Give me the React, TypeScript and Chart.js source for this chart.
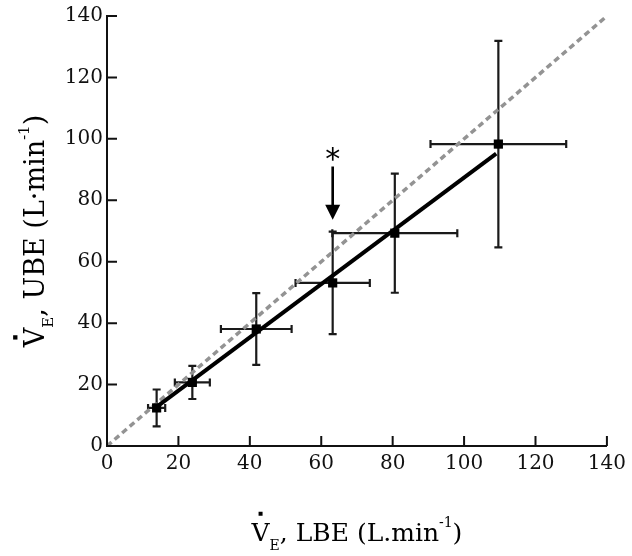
import { useEffect, useRef } from 'react';
import { Chart, registerables } from 'chart.js';

Chart.register(...registerables);

// Mean values (L·min⁻¹): lower-body exercise (x) vs upper-body exercise (y)
const lbeMeans = [13.9, 23.9, 41.8, 63.2, 80.6, 109.6];
const ubeMeans = [12.4, 20.7, 38.1, 53.1, 69.3, 98.3];
const lbeSD = [2.4, 4.9, 9.9, 10.4, 17.5, 19.0];
const ubeSD = [6.0, 5.4, 11.7, 16.7, 19.4, 33.6];

// Regression line and line of identity
const fitX = [14, 109];
const fitY = [12.8, 95.2];
const identityX = [0, 140];
const identityY = [0, 140];

// Ticks
const tickValues = [0, 20, 40, 60, 80, 100, 120, 140];

// Significance marker (arrow + asterisk)
const markerX = 63.2;
const arrowTopY = 91;
const arrowTipY = 73.7;
const asteriskY = 95.6;

type Part = { t: string; kind?: 'sub' | 'sup'; dot?: boolean };
const xTitleParts: Part[] = [
  { t: 'V', dot: true },
  { t: 'E', kind: 'sub' },
  { t: ', LBE (L.min' },
  { t: '-1', kind: 'sup' },
  { t: ')' },
];
const yTitleParts: Part[] = [
  { t: 'V', dot: true },
  { t: 'E', kind: 'sub' },
  { t: ', UBE (L\u00B7min' },
  { t: '-1', kind: 'sup' },
  { t: ')' },
];

const SERIF = '"DejaVu Serif", serif';

function drawRich(ctx: CanvasRenderingContext2D, parts: Part[], size: number, cx: number, baseline: number) {
  const fontMain = `${size}px ${SERIF}`;
  const fontSmall = `${Math.round(size * 0.56)}px ${SERIF}`;
  ctx.textAlign = 'left';
  ctx.textBaseline = 'alphabetic';
  const widths: number[] = [];
  let total = 0;
  parts.forEach((p) => {
    ctx.font = p.kind ? fontSmall : fontMain;
    const w = ctx.measureText(p.t).width;
    widths.push(w);
    total += w;
  });
  let x = cx - total / 2;
  parts.forEach((p, i) => {
    ctx.font = p.kind ? fontSmall : fontMain;
    const dy = p.kind === 'sub' ? size * 0.34 : p.kind === 'sup' ? -size * 0.56 : 0;
    ctx.fillText(p.t, x, baseline + dy);
    if (p.dot) {
      const d = Math.max(3.5, size * 0.16);
      ctx.fillRect(x + widths[i] / 2 - d / 2, baseline - size * 0.73 - 9 - d / 2, d, d);
    }
    x += widths[i];
  });
}

const overlayPlugin = {
  id: 'overlay',
  beforeDatasetsDraw(chart: any) {
    const { ctx } = chart;
    const xs = chart.scales.x;
    const ys = chart.scales.y;
    const cap = 4;
    ctx.save();
    ctx.strokeStyle = '#1a1a1a';
    ctx.lineWidth = 2.2;
    lbeMeans.forEach((mx, i) => {
      const my = ubeMeans[i];
      const px = xs.getPixelForValue(mx);
      const py = ys.getPixelForValue(my);
      const xl = xs.getPixelForValue(mx - lbeSD[i]);
      const xr = xs.getPixelForValue(mx + lbeSD[i]);
      const yt = ys.getPixelForValue(my + ubeSD[i]);
      const yb = ys.getPixelForValue(my - ubeSD[i]);
      ctx.beginPath();
      ctx.moveTo(xl, py); ctx.lineTo(xr, py);
      ctx.moveTo(xl, py - cap); ctx.lineTo(xl, py + cap);
      ctx.moveTo(xr, py - cap); ctx.lineTo(xr, py + cap);
      ctx.moveTo(px, yt); ctx.lineTo(px, yb);
      ctx.moveTo(px - cap, yt); ctx.lineTo(px + cap, yt);
      ctx.moveTo(px - cap, yb); ctx.lineTo(px + cap, yb);
      ctx.stroke();
    });
    ctx.restore();
  },
  afterDraw(chart: any) {
    const { ctx, chartArea } = chart;
    const xs = chart.scales.x;
    const ys = chart.scales.y;
    ctx.save();
    // inward tick marks
    ctx.strokeStyle = '#111';
    ctx.lineWidth = 2;
    ctx.beginPath();
    tickValues.forEach((v) => {
      const px = xs.getPixelForValue(v);
      ctx.moveTo(px, chartArea.bottom);
      ctx.lineTo(px, chartArea.bottom - 10);
      const py = ys.getPixelForValue(v);
      ctx.moveTo(chartArea.left, py);
      ctx.lineTo(chartArea.left + 10, py);
    });
    ctx.stroke();

    // arrow
    const ax = xs.getPixelForValue(markerX);
    const aTop = ys.getPixelForValue(arrowTopY);
    const aTip = ys.getPixelForValue(arrowTipY);
    const headH = 15;
    const headW = 7.5;
    ctx.fillStyle = '#000';
    ctx.strokeStyle = '#000';
    ctx.lineWidth = 2.6;
    ctx.beginPath();
    ctx.moveTo(ax, aTop);
    ctx.lineTo(ax, aTip - headH + 1);
    ctx.stroke();
    ctx.beginPath();
    ctx.moveTo(ax - headW, aTip - headH);
    ctx.lineTo(ax + headW, aTip - headH);
    ctx.lineTo(ax, aTip);
    ctx.closePath();
    ctx.fill();

    // asterisk
    const sy = ys.getPixelForValue(asteriskY);
    ctx.font = '30px "DejaVu Sans", sans-serif';
    ctx.textAlign = 'center';
    ctx.textBaseline = 'alphabetic';
    ctx.fillText('*', ax, sy + 0.56 * 30);

    // axis titles
    ctx.fillStyle = '#000';
    const cx = (chartArea.left + chartArea.right) / 2;
    drawRich(ctx, xTitleParts, 25, cx, 541);
    const cy = (chartArea.top + chartArea.bottom) / 2;
    ctx.translate(44, cy);
    ctx.rotate(-Math.PI / 2);
    drawRich(ctx, yTitleParts, 27, 0, 0);
    ctx.restore();
  },
};

export default function App() {
  const canvasRef = useRef<HTMLCanvasElement | null>(null);

  useEffect(() => {
    if (!canvasRef.current) return;
    const tickFont = { family: SERIF, size: 20 };
    const chart = new Chart(canvasRef.current, {
      type: 'scatter',
      data: {
        datasets: [
          {
            type: 'line',
            label: 'Identity',
            data: identityX.map((x, i) => ({ x, y: identityY[i] })),
            borderColor: '#939393',
            borderWidth: 3.5,
            borderDash: [6, 4],
            pointRadius: 0,
            fill: false,
            order: 3,
          } as any,
          {
            type: 'line',
            label: 'Regression',
            data: fitX.map((x, i) => ({ x, y: fitY[i] })),
            borderColor: '#000',
            borderWidth: 4,
            pointRadius: 0,
            fill: false,
            order: 2,
          } as any,
          {
            type: 'scatter',
            label: 'Mean',
            data: lbeMeans.map((x, i) => ({ x, y: ubeMeans[i] })),
            pointStyle: 'rect',
            pointRadius: 6.5,
            backgroundColor: '#000',
            borderColor: '#000',
            borderWidth: 0,
            order: 1,
          } as any,
        ],
      },
      options: {
        animation: false,
        responsive: true,
        maintainAspectRatio: false,
        layout: { padding: { top: 16, right: 24, left: 0, bottom: 0 } },
        plugins: {
          legend: { display: false },
          tooltip: { enabled: false },
        },
        scales: {
          x: {
            type: 'linear',
            min: 0,
            max: 140,
            grid: { display: false, drawTicks: false },
            border: { display: true, color: '#111', width: 2 },
            ticks: { stepSize: 20, padding: 6, color: '#111', font: tickFont, maxRotation: 0 },
            afterBuildTicks: (s: any) => {
              s.ticks = tickValues.map((v) => ({ value: v }));
            },
            afterFit: (s: any) => {
              s.height = 110;
            },
          },
          y: {
            type: 'linear',
            min: 0,
            max: 140,
            grid: { display: false, drawTicks: false },
            border: { display: true, color: '#111', width: 2 },
            ticks: { stepSize: 20, padding: 4, color: '#111', font: tickFont },
            afterBuildTicks: (s: any) => {
              s.ticks = tickValues.map((v) => ({ value: v }));
            },
            afterFit: (s: any) => {
              s.width = 107;
            },
          },
        },
      },
      plugins: [overlayPlugin],
    });
    return () => chart.destroy();
  }, []);

  return (
    <div style={{ position: 'absolute', left: 0, top: 0, width: 632, height: 556, background: '#fff' }}>
      <canvas ref={canvasRef} />
    </div>
  );
}
